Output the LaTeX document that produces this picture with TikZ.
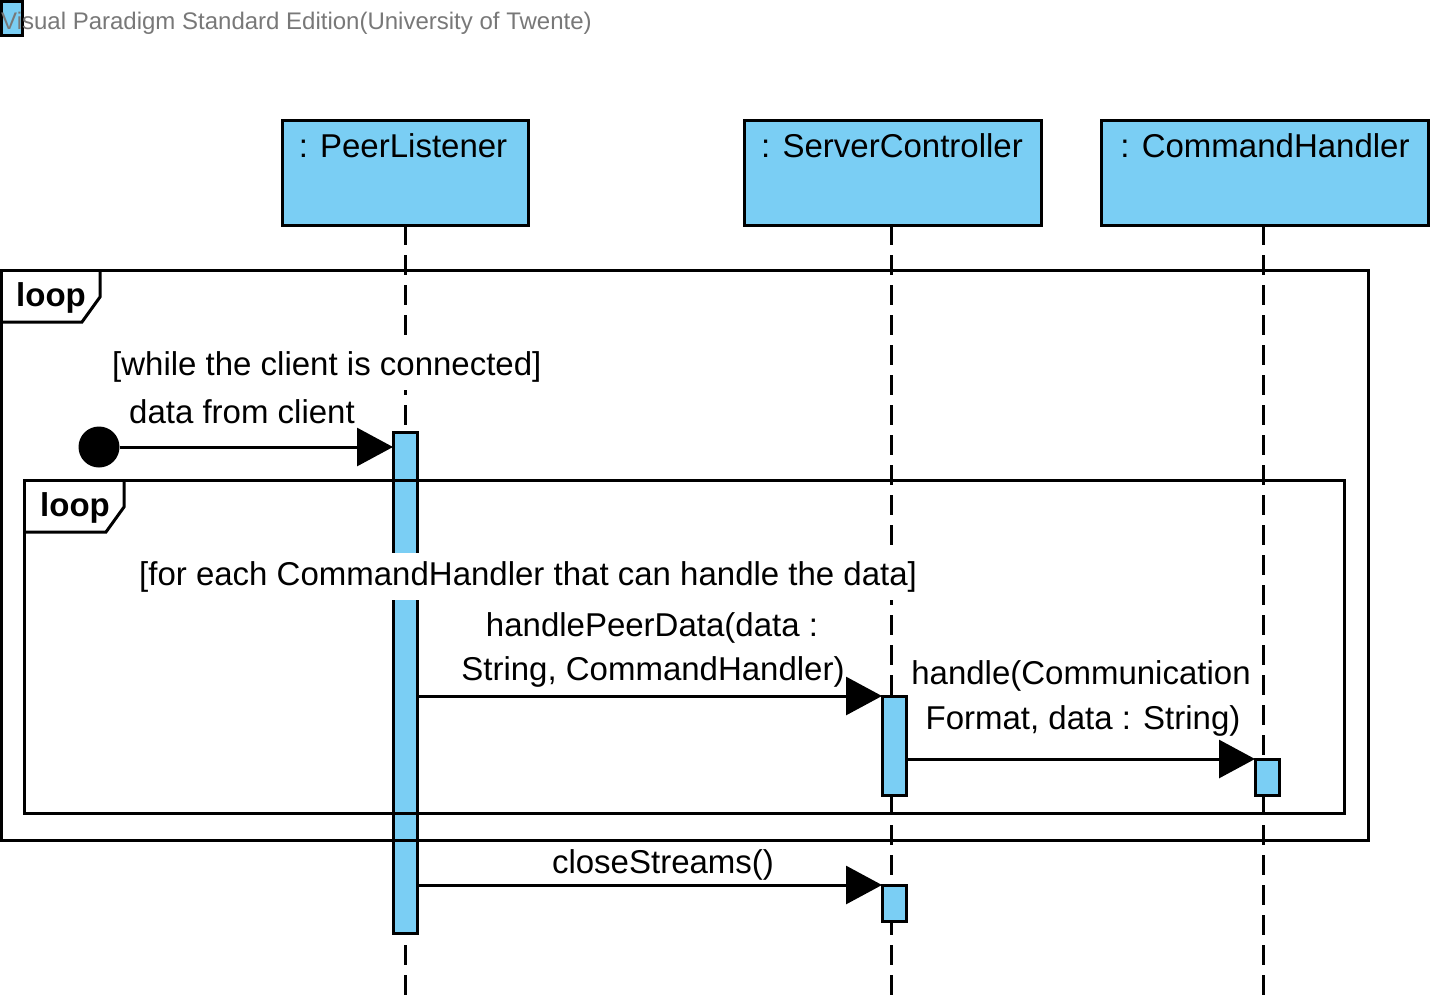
\documentclass[tikz,border=0pt]{standalone}
\usepackage{fontspec}
\setmainfont{Liberation Sans}
\usetikzlibrary{arrows.meta,calc}
\definecolor{vpblue}{RGB}{122,206,244}
\definecolor{titlegray}{RGB}{120,120,120}
\newcommand\bigfont{\fontsize{33}{40}\selectfont}
\newcommand\titlefont{\fontsize{24}{29}\selectfont}
\begin{document}
\begin{tikzpicture}[x=1pt,y=-1pt,
  bluebox/.style={draw=black, line width=3pt, fill=vpblue, inner sep=0pt, outer sep=0pt, anchor=north west},
  lifeline/.style={draw=black, line width=3pt, dash pattern=on 20pt off 10pt},
  framebox/.style={draw=black, line width=3pt, inner sep=0pt, outer sep=0pt, anchor=north west},
  frametab/.style={draw=black, line width=3pt, line join=miter},
  txt/.style={font=\bigfont, inner sep=0pt, anchor=base},
  guard/.style={font=\bigfont, fill=white, inner xsep=1pt, inner ysep=8pt, anchor=base west},
  looplbl/.style={font=\bigfont\bfseries, inner sep=0pt, anchor=base west},
  msg/.style={draw=black, line width=3pt, -{Triangle[length=36pt,width=38pt]}},
]
\useasboundingbox (0,0) rectangle (1443,1005);

% title
\node[bluebox, minimum width=21pt, minimum height=34pt] (sq) at (1.5,1.5) {};
\node[font=\titlefont, text=titlegray, inner sep=0pt, anchor=base west] (title) at (1,29) {Visual Paradigm Standard Edition(University of Twente)};

% lifeline heads
\node[bluebox, minimum width=246pt, minimum height=105pt] (pl) at (282,120) {};
\node[bluebox, minimum width=297pt, minimum height=105pt] (sc) at (744,120) {};
\node[bluebox, minimum width=327pt, minimum height=105pt] (ch) at (1101,120) {};
\node[txt] (plT) at (403,157) {: PeerListener};
\node[txt] (scT) at (892,157) {: ServerController};
\node[txt] (chT) at (1265,157) {: CommandHandler};

% lifelines
\coordinate (plEnd) at (405,995);
\coordinate (scEnd) at (891,995);
\coordinate (chEnd) at (1263,995);
\draw[lifeline] (pl.south -| plEnd) -- (plEnd);
\draw[lifeline] (sc.south -| scEnd) -- (scEnd);
\draw[lifeline] (ch.south -| chEnd) -- (chEnd);

% activation bars
\node[bluebox, minimum width=24pt, minimum height=501pt] (act1) at (393,432) {};
\node[bluebox, minimum width=24pt, minimum height=99pt] (actS1) at (882,696) {};
\node[bluebox, minimum width=24pt, minimum height=36pt] (actC) at (1255,759) {};
\node[bluebox, minimum width=24pt, minimum height=36pt] (actS2) at (882,885) {};

% combined fragments
\node[framebox, minimum width=1366.5pt, minimum height=570pt] (outer) at (1.5,270) {};
\draw[frametab] (100,270) -- (100,297) -- (82,322) -- (1.5,322);
\node[framebox, minimum width=1320pt, minimum height=333pt] (inner) at (24,480) {};
\draw[frametab] (124,480) -- (124,507) -- (106,532) -- (24,532);
\node[looplbl] (loop1) at (16,306) {loop};
\node[looplbl] (loop2) at (40,516) {loop};
\node[guard] (g1) at (111,375) {[while the client is connected]};
\node[guard] (g2) at (138,585) {[for each CommandHandler that can handle the data]};

% found message
\node[circle, fill=black, minimum size=41pt, inner sep=0pt] (dot) at (99,447) {};
\draw[msg] (dot.east) -- (dot -| act1.west);
\node[txt, anchor=base west] (m0) at (129,423) {data from client};

% messages
\draw[msg] (actS1.north west -| act1.east) -- (actS1.north west);
\node[txt] (m1a) at (652,636) {handlePeerData(data :};
\node[txt] (m1b) at (653,680) {String, CommandHandler)};

\draw[msg] (actC.north west -| actS1.east) -- (actC.north west);
\node[txt] (m2a) at (1081,684) {handle(Communication};
\node[txt] (m2b) at (1083,729) {Format, data : String)};

\draw[msg] (actS2.north west -| act1.east) -- (actS2.north west);
\node[txt] (m3) at (663,873) {closeStreams()};
\end{tikzpicture}
\end{document}
